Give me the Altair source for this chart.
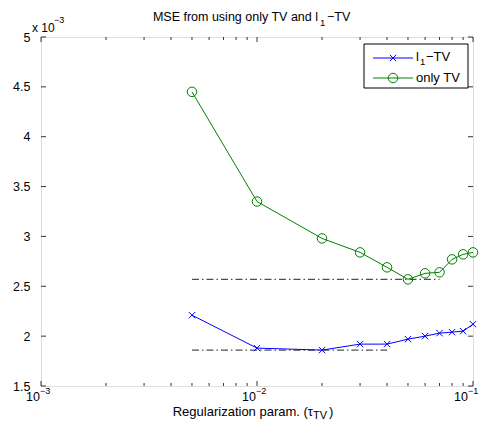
import altair as alt
import pandas as pd

# ---- data ----
tau = [0.005, 0.01, 0.02, 0.03, 0.04, 0.05, 0.06, 0.07, 0.08, 0.09, 0.1]
l1tv = [2.21, 1.88, 1.86, 1.92, 1.92, 1.97, 2.00, 2.03, 2.04, 2.05, 2.12]
onlytv = [4.45, 3.35, 2.98, 2.84, 2.69, 2.57, 2.63, 2.64, 2.77, 2.82, 2.84]

ref_level = [2.57, 1.86]
ref_start = [0.005, 0.005]
ref_end = [0.07, 0.04]

x_major = [0.001, 0.01, 0.1]
x_major_exp = ["−3", "−2", "−1"]
x_minor = [0.002, 0.003, 0.004, 0.005, 0.006, 0.007, 0.008, 0.009,
           0.02, 0.03, 0.04, 0.05, 0.06, 0.07, 0.08, 0.09]
y_ticks = [1.5, 2.0, 2.5, 3.0, 3.5, 4.0, 4.5, 5.0]

W, H = 432, 349
FONT = "Liberation Sans"
BLUE = "#0000ff"
GREEN = "#008000"

xs = alt.Scale(type="log", domain=[0.001, 0.1])
ys = alt.Scale(domain=[1.5, 5])

df_l1 = pd.DataFrame({"tau": tau, "mse": l1tv})
df_tv = pd.DataFrame({"tau": tau, "mse": onlytv})
df_ref = pd.DataFrame({"x": ref_start, "x2": ref_end, "y": ref_level})
df_xlab = pd.DataFrame({"v": x_major[:2], "e": x_major_exp[:2]})
df_xlab_last = pd.DataFrame({"v": x_major[2:], "e": x_major_exp[2:]})

xaxis = alt.Axis(values=x_major, ticks=False, domain=False, grid=False, labels=False,
                 title=None)
yaxis = alt.Axis(values=y_ticks, ticks=False, domain=False, grid=False, format="~g",
                 labelFont=FONT, labelFontSize=12.5, labelColor="black", labelPadding=11,
                 title=None)

XPATH = "M-1,-1L1,1M-1,1L1,-1"

line_l1 = alt.Chart(df_l1).mark_line(color=BLUE, strokeWidth=1).encode(
    x=alt.X("tau:Q", scale=xs, axis=xaxis), y=alt.Y("mse:Q", scale=ys, axis=yaxis))
pts_l1 = alt.Chart(df_l1).mark_point(shape=XPATH, color=BLUE, size=40, strokeWidth=1,
                                     filled=False, opacity=1).encode(
    x=alt.X("tau:Q", scale=xs), y=alt.Y("mse:Q", scale=ys))
line_tv = alt.Chart(df_tv).mark_line(color=GREEN, strokeWidth=1).encode(
    x=alt.X("tau:Q", scale=xs), y=alt.Y("mse:Q", scale=ys))
pts_tv = alt.Chart(df_tv).mark_point(shape="circle", color=GREEN, size=90, strokeWidth=1,
                                     filled=False, opacity=1).encode(
    x=alt.X("tau:Q", scale=xs), y=alt.Y("mse:Q", scale=ys))
refs = alt.Chart(df_ref).mark_rule(color="#222222", strokeWidth=1,
                                   strokeDash=[7, 3, 1.5, 3]).encode(
    x=alt.X("x:Q", scale=xs), x2="x2:Q", y=alt.Y("y:Q", scale=ys))

# x tick labels "10" with superscript exponent
def xlabels(df, dx):
    base = alt.Chart(df).mark_text(text="10", font=FONT, fontSize=12.5, align="right",
                                   baseline="middle", color="black", dx=dx).encode(
        x=alt.X("v:Q", scale=xs), y=alt.value(H + 11))
    exp = alt.Chart(df).mark_text(font=FONT, fontSize=9, align="left",
                                  baseline="middle", color="black", dx=dx).encode(
        x=alt.X("v:Q", scale=xs), y=alt.value(H + 5), text="e:N")
    return base + exp

# inward ticks (MATLAB style) on all four sides
def xticks(vals, length):
    d = pd.DataFrame({"v": vals})
    b = alt.Chart(d).mark_rule(color="black", strokeWidth=0.8).encode(
        x=alt.X("v:Q", scale=xs), y=alt.value(H), y2=alt.value(H - length))
    t = alt.Chart(d).mark_rule(color="black", strokeWidth=0.8).encode(
        x=alt.X("v:Q", scale=xs), y=alt.value(0), y2=alt.value(length))
    return b + t

dy = pd.DataFrame({"v": y_ticks})
yt_l = alt.Chart(dy).mark_rule(color="black", strokeWidth=0.8).encode(
    y=alt.Y("v:Q", scale=ys), x=alt.value(0), x2=alt.value(5))
yt_r = alt.Chart(dy).mark_rule(color="black", strokeWidth=0.8).encode(
    y=alt.Y("v:Q", scale=ys), x=alt.value(W), x2=alt.value(W - 5))

one = pd.DataFrame({"a": [0]})

def txt(s, x, y, size=12, align="left", baseline="middle"):
    return alt.Chart(one).mark_text(text=s, font=FONT, fontSize=size, align=align,
                                    baseline=baseline, color="black").encode(
        x=alt.value(x), y=alt.value(y))

# legend
leg_box = alt.Chart(one).mark_rect(fill="white", stroke="black", strokeWidth=1).encode(
    x=alt.value(323), x2=alt.value(427), y=alt.value(7), y2=alt.value(51))
leg_l1_line = alt.Chart(one).mark_rule(color=BLUE, strokeWidth=1).encode(
    x=alt.value(332), x2=alt.value(372), y=alt.value(21))
leg_l1_pt = alt.Chart(one).mark_point(shape=XPATH, color=BLUE, size=40, filled=False,
                                      opacity=1, strokeWidth=1).encode(
    x=alt.value(352), y=alt.value(21))
leg_tv_line = alt.Chart(one).mark_rule(color=GREEN, strokeWidth=1).encode(
    x=alt.value(332), x2=alt.value(372), y=alt.value(41))
leg_tv_pt = alt.Chart(one).mark_point(shape="circle", color=GREEN, size=90, filled=False,
                                      opacity=1, strokeWidth=1).encode(
    x=alt.value(352), y=alt.value(41))

texts = (
    txt("l", 375, 20, size=13) + txt("1", 379, 25, size=9.5) + txt("−TV", 385, 20, size=13)
    + txt("only TV", 375, 41, size=13)
    + txt("MSE from using only TV and l", 277, -20, size=12.5, align="right")
    + txt("1", 279, -14, size=9.5) + txt("−TV", 286, -20, size=12.5)
    + txt("x 10", -9, -9, size=12) + txt("−3", 13, -17, size=9)
    + txt("Regularization param. (τ", 272, 375, size=13, align="right")
    + txt("TV", 272, 379, size=11) + txt(")", 288, 375, size=13)
)

chart = alt.layer(
    refs, line_tv, pts_tv, line_l1, pts_l1,
    xticks(x_major, 5), xticks(x_minor, 3), yt_l, yt_r,
    xlabels(df_xlab, -1), xlabels(df_xlab_last, -5),
    leg_box, leg_l1_line, leg_l1_pt, leg_tv_line, leg_tv_pt,
    texts,
).properties(
    width=W, height=H,
    autosize=alt.AutoSizeParams(type="none"),
    padding={"left": 33, "top": 29, "right": 6, "bottom": 34},
).configure_view(stroke="black", strokeWidth=1).configure(background="white")

chart.save("out.html", embed_options={"renderer": "svg", "actions": False})
